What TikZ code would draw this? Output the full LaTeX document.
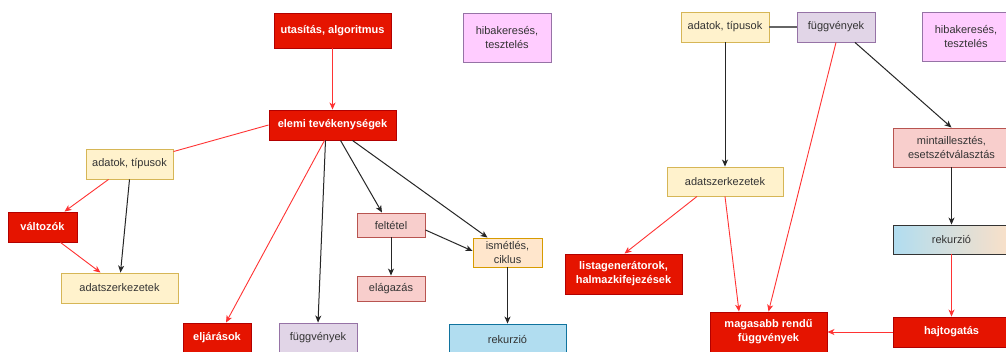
\documentclass[tikz,border=0pt]{standalone}
\usepackage{fontspec}
\setmainfont{Liberation Sans}
\usetikzlibrary{arrows.meta}
\definecolor{dred}{HTML}{E51400}
\definecolor{dredb}{HTML}{B20000}
\definecolor{yelf}{HTML}{FFF2CC}
\definecolor{yelb}{HTML}{D6B656}
\definecolor{purf}{HTML}{E1D5E7}
\definecolor{purb}{HTML}{9673A6}
\definecolor{pinkf}{HTML}{FFCCFF}
\definecolor{lredf}{HTML}{F8CECC}
\definecolor{lredb}{HTML}{B85450}
\definecolor{oranf}{HTML}{FFE6CC}
\definecolor{oranb}{HTML}{D79B00}
\definecolor{bluef}{HTML}{B1DDF0}
\definecolor{blueb}{HTML}{10739E}
\definecolor{peach}{HTML}{FAE0C8}
\definecolor{txt}{HTML}{333333}
\definecolor{lred}{HTML}{FF3333}
\tikzset{
  box/.style={draw, line width=0.9pt, inner sep=0pt, align=center,
    font=\fontsize{11}{14}\selectfont, text=txt},
  redbox/.style={box, fill=dred, draw=dredb, text=white,
    font=\fontsize{11}{14}\selectfont\bfseries},
  yelbox/.style={box, fill=yelf, draw=yelb},
  purbox/.style={box, fill=purf, draw=purb},
  pinkbox/.style={box, fill=pinkf, draw=purb},
  lredbox/.style={box, fill=lredf, draw=lredb},
  oranbox/.style={box, fill=oranf, draw=oranb},
  bluebox/.style={box, fill=bluef, draw=blueb},
  gradbox/.style={box, left color=bluef, right color=peach, draw=black!80},
  tip/.style={-{Stealth[length=7pt,width=6pt,inset=2pt]}},
  redarr/.style={tip, draw=lred, line width=0.9pt},
  redline/.style={draw=lred, line width=0.9pt},
  blkarr/.style={tip, draw=black!85, line width=1pt},
  grayline/.style={draw=black!60, line width=1.6pt},
}
\begin{document}
\begin{tikzpicture}[x=1pt,y=-1pt]
\useasboundingbox[fill=white] (0,0) rectangle (1006,351);

% left part
\node[redbox, minimum width=117, minimum height=35] (utas) at (332.5,30.5) {utasítás, algoritmus};
\node[pinkbox, minimum width=88, minimum height=49] (hibL) at (507,37.5) {hibakeresés,\\tesztelés};
\node[redbox, minimum width=127, minimum height=30] (elemi) at (332.5,125) {elemi tevékenységek};
\node[yelbox, minimum width=87, minimum height=30] (adatokL) at (129.5,164) {adatok, típusok};
\node[redbox, minimum width=69, minimum height=30] (valt) at (42.5,227) {változók};
\node[yelbox, minimum width=117, minimum height=30] (adatszL) at (119.5,288) {adatszerkezetek};
\node[redbox, minimum width=68, minimum height=30] (eljar) at (217,338) {eljárások};
\node[purbox, minimum width=78, minimum height=30] (fuggL) at (318,338) {függvények};
\node[lredbox, minimum width=68, minimum height=24] (felt) at (391,225) {feltétel};
\node[lredbox, minimum width=68, minimum height=25] (elag) at (391,288.5) {elágazás};
\node[oranbox, minimum width=69, minimum height=29] (ism) at (507.5,252.5) {ismétlés,\\ciklus};
\node[bluebox, minimum width=117, minimum height=30] (rekL) at (507.5,339) {rekurzió};

% right part
\node[yelbox, minimum width=88, minimum height=30] (adatokR) at (725,27) {adatok, típusok};
\node[purbox, minimum width=78, minimum height=30] (fuggR) at (836,27) {függvények};
\node[pinkbox, minimum width=88, minimum height=49] (hibR) at (966,36.5) {hibakeresés,\\tesztelés};
\node[lredbox, minimum width=117, minimum height=39] (minta) at (951.5,147.5) {mintaillesztés,\\esetszétválasztás};
\node[yelbox, minimum width=116, minimum height=29] (adatszR) at (725,181.5) {adatszerkezetek};
\node[gradbox, minimum width=117, minimum height=29] (rekR) at (951.5,239.5) {rekurzió};
\node[redbox, minimum width=117, minimum height=40] (lista) at (623.5,274) {listagenerátorok,\\halmazkifejezések};
\node[redbox, minimum width=117, minimum height=40] (mag) at (768.5,332) {magasabb rendű\\függvények};
\node[redbox, minimum width=117, minimum height=30] (hajt) at (951.5,332) {hajtogatás};

% left edges
\draw[redarr] (utas.south) -- (elemi.north);
\draw[redline] (elemi.west) -- ([yshift=-3pt]adatokL.north east);
\draw[redarr] ([xshift=-8pt]elemi.south) -- ([xshift=9pt]eljar.north);
\draw[blkarr] ([xshift=-7pt]elemi.south) -- (fuggL.north);
\draw[blkarr] ([xshift=8pt]elemi.south) -- ([xshift=-9pt]felt.north);
\draw[blkarr] ([xshift=20pt]elemi.south) -- ([xshift=-20pt]ism.north);
\draw[redarr] ([xshift=-21pt]adatokL.south) -- ([xshift=22pt]valt.north);
\draw[blkarr] (adatokL.south) -- ([xshift=1pt]adatszL.north);
\draw[redarr] ([xshift=18pt]valt.south) -- ([xshift=-19pt]adatszL.north);
\draw[blkarr] (felt.south) -- (elag.north);
\draw[blkarr] ([yshift=-5pt]felt.east) -- ([yshift=1.5pt]ism.west);
\draw[blkarr] (ism.south) -- (rekL.north);

% right edges
\draw[grayline] (adatokR.east) -- (fuggR.west);
\draw[blkarr] (adatokR.south) -- (adatszR.north);
\draw[redarr] (fuggR.south) -- (mag.north);
\draw[blkarr] ([xshift=19pt]fuggR.south) -- (minta.north);
\draw[redarr] ([xshift=-28pt]adatszR.south) -- ([xshift=1pt]lista.north);
\draw[redarr] (adatszR.south) -- ([xshift=-29.5pt]mag.north);
\draw[blkarr] (minta.south) -- (rekR.north);
\draw[redarr] (rekR.south) -- (hajt.north);
\draw[redarr] (hajt.west) -- (mag.east);
\end{tikzpicture}
\end{document}
